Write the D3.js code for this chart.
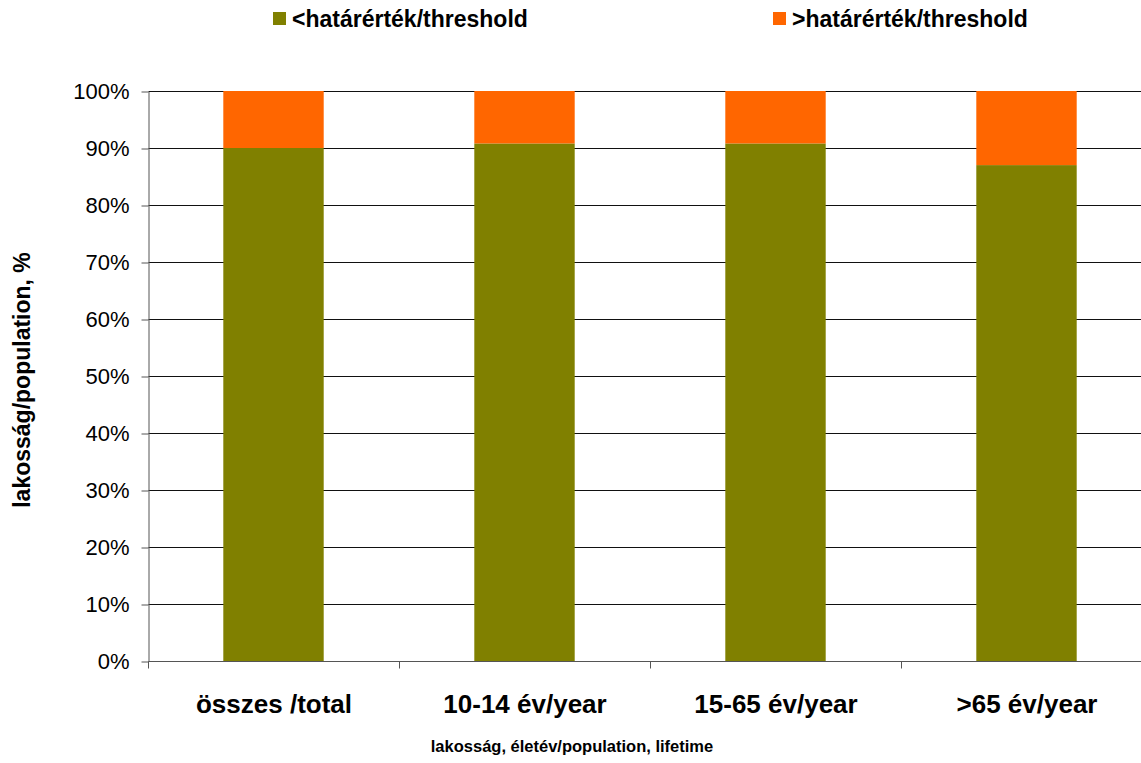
<!DOCTYPE html>
<html>
<head>
<meta charset="utf-8">
<script src="https://cdn.jsdelivr.net/npm/d3@7"></script>
<style>
  body { margin: 0; background: #fff; }
  text { font-family: "Liberation Sans", Arial, sans-serif; }
</style>
</head>
<body>
<div id="canvas"></div>
<script>
var categories = ['összes /total', '10-14 év/year', '15-65 év/year', '>65 év/year'];
var below = [90.0, 90.8, 90.8, 87.0];
var above = [10.0, 9.2, 9.2, 13.0];
var seriesNames = ['<határérték/threshold', '>határérték/threshold'];
var colors = ['#808000', '#ff6600'];
var yTicks = [0, 10, 20, 30, 40, 50, 60, 70, 80, 90, 100];

var W = 1141, H = 763;
var m = {t: 91, l: 148, b: 102};
var plotW = 1004, plotH = H - m.t - m.b;

var svg = d3.select('#canvas').append('svg')
    .attr('width', W).attr('height', H);

var plot = svg.append('g').attr('transform', 'translate(' + (m.l + 0.5) + ',' + (m.t + 0.5) + ')');

var x = d3.scaleBand().domain(categories).range([0, plotW]).paddingInner(0.6).paddingOuter(0.3);
var y = d3.scaleLinear().domain([0, 100]).range([plotH, 0]);

// gridlines
plot.selectAll('.grid').data(yTicks.slice(1))
  .enter().append('line')
    .attr('x1', 0).attr('x2', plotW)
    .attr('y1', function(d){ return y(d); }).attr('y2', function(d){ return y(d); })
    .style('stroke', '#111').style('stroke-width', 1);

var data = categories.map(function(c, i){ return {cat: c, v0: below[i], v1: above[i]}; });

plot.selectAll('.below').data(data).enter().append('rect')
    .attr('x', function(d){ return x(d.cat) - 0.5; })
    .attr('width', x.bandwidth())
    .attr('y', function(d){ return y(d.v0) - 0.5; })
    .attr('height', function(d){ return y(0) - y(d.v0); })
    .style('fill', colors[0]);

plot.selectAll('.above').data(data).enter().append('rect')
    .attr('x', function(d){ return x(d.cat) - 0.5; })
    .attr('width', x.bandwidth())
    .attr('y', function(d){ return y(d.v0 + d.v1) - 0.5; })
    .attr('height', function(d){ return y(d.v0) - y(d.v0 + d.v1); })
    .style('fill', colors[1]);

// y axis
var yAxis = plot.append('g')
    .call(d3.axisLeft(y).tickValues(yTicks).tickFormat(function(d){ return d + '%'; }).tickSize(7).tickSizeOuter(0));
yAxis.select('.domain').style('stroke', '#555');
yAxis.selectAll('.tick line').style('stroke', '#555');
yAxis.selectAll('text').style('font-size', '22px').style('fill', '#000')
    .attr('x', -19);

// x axis
var xAxis = plot.append('g').attr('transform', 'translate(0,' + plotH + ')');
xAxis.append('line').attr('x1', 0).attr('x2', plotW).style('stroke', '#555');
xAxis.selectAll('.sep').data(d3.range(categories.length + 1))
  .enter().append('line')
    .attr('x1', function(i){ return i * x.step(); })
    .attr('x2', function(i){ return i * x.step(); })
    .attr('y1', 0).attr('y2', 7).style('stroke', '#555');
xAxis.selectAll('.lbl').data(categories)
  .enter().append('text')
    .attr('x', function(d){ return x(d) + x.bandwidth() / 2; })
    .attr('y', 51)
    .attr('text-anchor', 'middle')
    .style('font-size', '26px').style('font-weight', 'bold')
    .text(function(d){ return d; });

// axis titles
svg.append('text')
    .attr('x', 572).attr('y', 752)
    .attr('text-anchor', 'middle')
    .style('font-size', '16.5px').style('font-weight', 'bold')
    .text('lakosság, életév/population, lifetime');

svg.append('text')
    .attr('transform', 'translate(30,380) rotate(-90)')
    .attr('text-anchor', 'middle')
    .style('font-size', '23px').style('font-weight', 'bold')
    .text('lakosság/population, %');

// legend
var legX = [273, 773];
var leg = svg.selectAll('.leg').data(seriesNames).enter().append('g')
    .attr('transform', function(d, i){ return 'translate(' + legX[i] + ',12)'; });
leg.append('rect').attr('width', 13).attr('height', 13)
    .style('fill', function(d, i){ return colors[i]; });
leg.append('text').attr('x', 19).attr('y', 15)
    .style('font-size', '23px').style('font-weight', 'bold')
    .text(function(d){ return d; });
</script>
</body>
</html>
